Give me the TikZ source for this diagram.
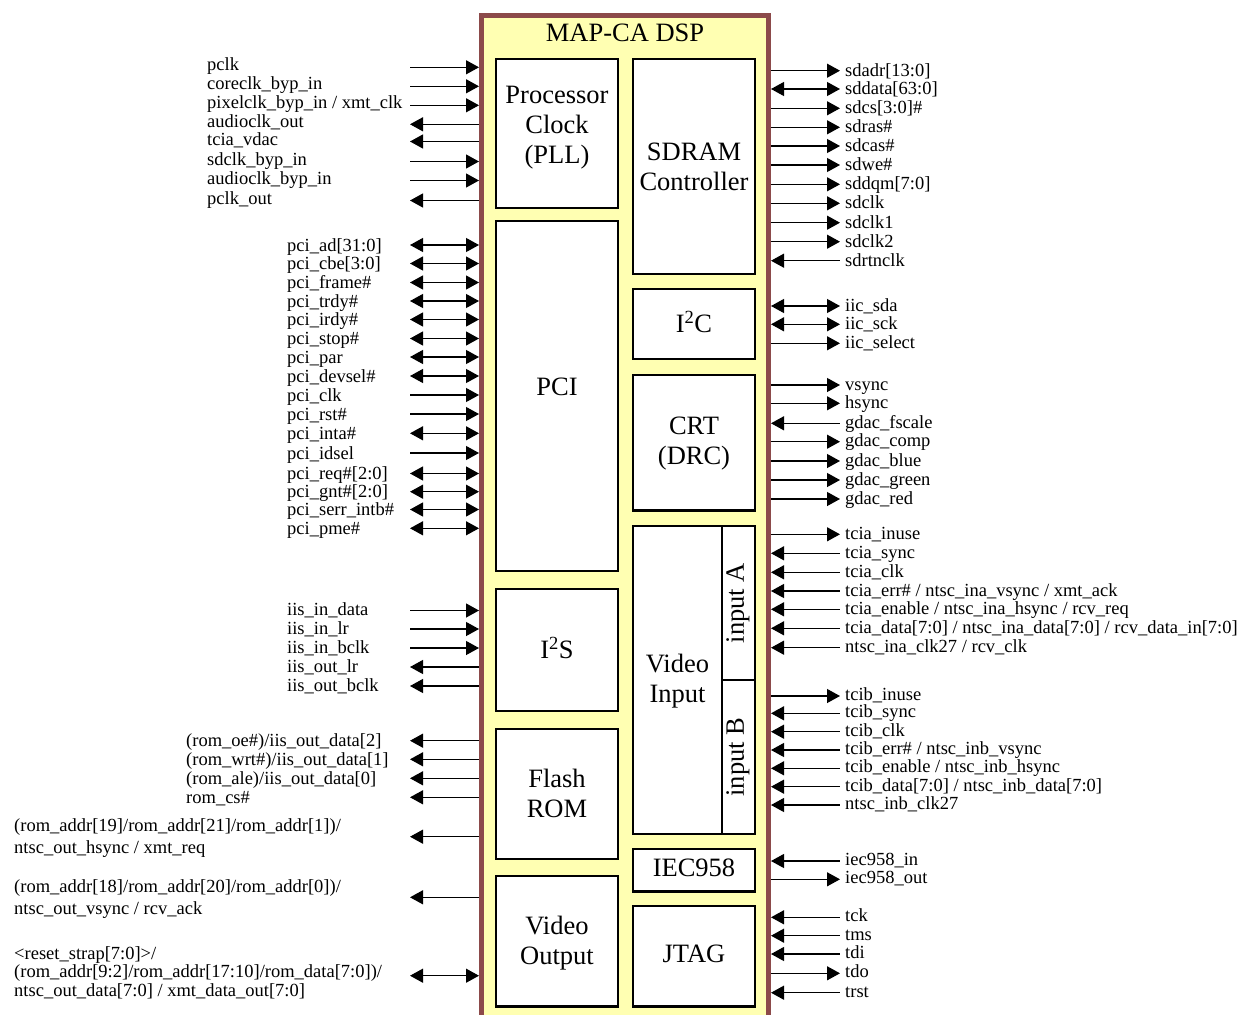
\documentclass[tikz,border=0pt]{standalone}
\usepackage{fontspec}
\setmainfont{Liberation Serif}
\usetikzlibrary{arrows.meta}
\definecolor{chipbrown}{RGB}{140,74,74}
\definecolor{chipyellow}{RGB}{255,255,178}
\tikzset{
  sig/.style={line width=1.2pt},
  tipR/.style={-{Triangle[length=13pt,width=14pt]}},
  tipL/.style={{Triangle[length=13pt,width=14pt]}-},
  tipLR/.style={{Triangle[length=13pt,width=14pt]}-{Triangle[length=13pt,width=14pt]}},
  lbl/.style={anchor=base west, inner sep=0pt, font=\fontsize{18.5}{18.5}\selectfont},
  blk/.style={draw=black, line width=2.2pt, fill=white},
  ttl/.style={font=\fontsize{26.5}{30}\selectfont, align=center, inner sep=0pt},
}
% left signal: name, label x, y, baseline offset, tip style, text
\newcommand\Lsig[6]{%
  \coordinate (#1a) at (410,#3);
  \coordinate (#1b) at (479,#3);
  \draw[sig,#5] (#1a) -- (#1b);
  \node[lbl] (#1) at ({#2},{#3+#4}) {#6};
}
% right signal: name, y, baseline offset, tip style, text
\newcommand\Rsig[5]{%
  \coordinate (#1a) at (771,#2);
  \coordinate (#1b) at (840,#2);
  \draw[sig,#4] (#1a) -- (#1b);
  \node[lbl] (#1) at (845,{#2+#3}) {#5};
}
\begin{document}
\begin{tikzpicture}[x=1pt,y=-1pt]
\path[use as bounding box] (0,0) rectangle (1244,1014);
\clip (0,0) rectangle (1244,1014);
% chip outline
\draw[line width=5pt, draw=chipbrown, fill=chipyellow] (481.7,15.8) rectangle (768,1040);
\node[ttl] (chip) at (625,33) {MAP-CA DSP};
% blocks
\draw[blk] (496,59) rectangle (618,208);
\node[ttl] (pll) at (557,128) {Processor\\Clock\\(PLL)};
\draw[blk] (633,59) rectangle (755,274);
\node[ttl] (sdram) at (694,167) {SDRAM\\Controller};
\draw[blk] (496,221) rectangle (618,571);
\node[ttl] (pci) at (557,387) {PCI};
\draw[blk] (633,289) rectangle (755,359);
\node[ttl] (iic) at (694,321.5) {I\textsuperscript{2}C};
\draw[blk] (633,375) rectangle (755,510.5);
\node[ttl] (crt) at (694,444) {CRT\\(DRC)};
\draw[blk] (496,589) rectangle (618,711);
\node[ttl] (iis) at (557,648) {I\textsuperscript{2}S};
\draw[blk] (496,729) rectangle (618,859);
\node[ttl] (flash) at (557,793) {Flash\\ROM};
\draw[blk] (496,876) rectangle (618,1006.5);
\node[ttl] (vout) at (557,943) {Video\\Output};
\draw[blk] (633,526) rectangle (755,834);
\draw[blk] (722,526) -- (722,834);
\draw[blk] (722,680) -- (755,680);
\node[ttl] (vin) at (677.5,681.5) {Video\\Input};
\node[ttl, rotate=90] (ina) at (738,603) {input A};
\node[ttl, rotate=90] (inb) at (738,757) {input B};
\draw[blk] (633,849) rectangle (755,891.5);
\node[ttl] (iec) at (694,868) {IEC958};
\draw[blk] (633,906) rectangle (755,1006.5);
\node[ttl] (jtag) at (694,954) {JTAG};
% left: clock
\Lsig{pclk}{207}{67.3}{3.5}{tipR}{pclk}
\Lsig{corebyp}{207}{86.3}{3.5}{tipR}{coreclk\_byp\_in}
\Lsig{pixbyp}{207}{105.3}{3.5}{tipR}{pixelclk\_byp\_in / xmt\_clk}
\Lsig{audout}{207}{124.3}{3.5}{tipL}{audioclk\_out}
\Lsig{vdac}{207}{141.5}{3.5}{tipL}{tcia\_vdac}
\Lsig{sdbyp}{207}{161.5}{3.5}{tipR}{sdclk\_byp\_in}
\Lsig{audbyp}{207}{180.5}{3.5}{tipR}{audioclk\_byp\_in}
\Lsig{pclkout}{207}{200.5}{3.5}{tipL}{pclk\_out}
% left: pci
\Lsig{pciad}{287}{245}{6}{tipLR}{pci\_ad[31:0]}
\Lsig{pcicbe}{287}{263.5}{6}{tipLR}{pci\_cbe[3:0]}
\Lsig{pcifr}{287}{282.5}{6}{tipLR}{pci\_frame\#}
\Lsig{pcitr}{287}{301}{6}{tipLR}{pci\_trdy\#}
\Lsig{pciir}{287}{319.5}{6}{tipLR}{pci\_irdy\#}
\Lsig{pcist}{287}{338.5}{6}{tipLR}{pci\_stop\#}
\Lsig{pcipar}{287}{357}{6}{tipLR}{pci\_par}
\Lsig{pcidev}{287}{376}{6}{tipLR}{pci\_devsel\#}
\Lsig{pciclk}{287}{395}{6}{tipR}{pci\_clk}
\Lsig{pcirst}{287}{414}{6}{tipR}{pci\_rst\#}
\Lsig{pciint}{287}{433.3}{6}{tipLR}{pci\_inta\#}
\Lsig{pciids}{287}{453}{6}{tipR}{pci\_idsel}
\Lsig{pcireq}{287}{473.5}{6}{tipLR}{pci\_req\#[2:0]}
\Lsig{pcignt}{287}{491.7}{6}{tipLR}{pci\_gnt\#[2:0]}
\Lsig{pciserr}{287}{509.5}{6}{tipLR}{pci\_serr\_intb\#}
\Lsig{pcipme}{287}{528.3}{6}{tipLR}{pci\_pme\#}
% left: i2s
\Lsig{iisid}{287}{610.5}{5}{tipR}{iis\_in\_data}
\Lsig{iisilr}{287}{629}{5}{tipR}{iis\_in\_lr}
\Lsig{iisibc}{287}{648}{5}{tipR}{iis\_in\_bclk}
\Lsig{iisolr}{287}{667}{5}{tipL}{iis\_out\_lr}
\Lsig{iisobc}{287}{686}{5}{tipL}{iis\_out\_bclk}
% left: flash
\Lsig{romoe}{186}{740.7}{6}{tipL}{(rom\_oe\#)/iis\_out\_data[2]}
\Lsig{romwr}{186}{759.3}{6}{tipL}{(rom\_wrt\#)/iis\_out\_data[1]}
\Lsig{romale}{186}{778.3}{6}{tipL}{(rom\_ale)/iis\_out\_data[0]}
\Lsig{romcs}{186}{797.3}{6}{tipL}{rom\_cs\#}
% left: multi-line
\coordinate (hsa) at (410,836.7); \coordinate (hsb) at (479,836.7);
\draw[sig,tipL] (hsa) -- (hsb);
\node[lbl] (hs1) at (14,831.5) {(rom\_addr[19]/rom\_addr[21]/rom\_addr[1])/};
\node[lbl] (hs2) at (14,853.5) {ntsc\_out\_hsync / xmt\_req};
\coordinate (vsa) at (410,897.3); \coordinate (vsb) at (479,897.3);
\draw[sig,tipL] (vsa) -- (vsb);
\node[lbl] (vs1) at (14,892) {(rom\_addr[18]/rom\_addr[20]/rom\_addr[0])/};
\node[lbl] (vs2) at (14,914.5) {ntsc\_out\_vsync / rcv\_ack};
\coordinate (rsa) at (410,975.7); \coordinate (rsb) at (479,975.7);
\draw[sig,tipLR] (rsa) -- (rsb);
\node[lbl] (rs1) at (14,959) {<reset\_strap[7:0]>/};
\node[lbl] (rs2) at (14,977.5) {(rom\_addr[9:2]/rom\_addr[17:10]/rom\_data[7:0])/};
\node[lbl] (rs3) at (14,996) {ntsc\_out\_data[7:0] / xmt\_data\_out[7:0]};
% right: sdram
\Rsig{sdadr}{70.7}{5.5}{tipR}{sdadr[13:0]}
\Rsig{sddata}{89}{5.5}{tipLR}{sddata[63:0]}
\Rsig{sdcs}{108.3}{5.5}{tipR}{sdcs[3:0]\#}
\Rsig{sdras}{127.3}{5.5}{tipR}{sdras\#}
\Rsig{sdcas}{146}{5.5}{tipR}{sdcas\#}
\Rsig{sdwe}{165}{5.5}{tipR}{sdwe\#}
\Rsig{sddqm}{184.3}{5.5}{tipR}{sddqm[7:0]}
\Rsig{sdclk}{203.3}{5.5}{tipR}{sdclk}
\Rsig{sdclka}{222.7}{5.5}{tipR}{sdclk1}
\Rsig{sdclkb}{241.7}{5.5}{tipR}{sdclk2}
\Rsig{sdrtn}{260.7}{5.5}{tipL}{sdrtnclk}
% right: iic
\Rsig{iicsda}{306}{5.5}{tipLR}{iic\_sda}
\Rsig{iicsck}{324.3}{5.5}{tipLR}{iic\_sck}
\Rsig{iicsel}{343.3}{5.5}{tipR}{iic\_select}
% right: crt
\Rsig{vsync}{385}{5}{tipR}{vsync}
\Rsig{hsync}{403.3}{5}{tipR}{hsync}
\Rsig{gfs}{423.3}{5}{tipL}{gdac\_fscale}
\Rsig{gcomp}{441.7}{5}{tipR}{gdac\_comp}
\Rsig{gblue}{461}{5}{tipR}{gdac\_blue}
\Rsig{ggreen}{480}{5}{tipR}{gdac\_green}
\Rsig{gred}{499}{5}{tipR}{gdac\_red}
% right: video in A
\Rsig{tainuse}{534.3}{5}{tipR}{tcia\_inuse}
\Rsig{tasync}{553.3}{5}{tipL}{tcia\_sync}
\Rsig{taclk}{572.3}{5}{tipL}{tcia\_clk}
\Rsig{taerr}{591}{5}{tipL}{tcia\_err\# / ntsc\_ina\_vsync / xmt\_ack}
\Rsig{taen}{609.3}{5}{tipL}{tcia\_enable / ntsc\_ina\_hsync / rcv\_req}
\Rsig{tadata}{628.3}{5}{tipL}{tcia\_data[7:0] / ntsc\_ina\_data[7:0] / rcv\_data\_in[7:0]}
\Rsig{taclkb}{647.7}{5}{tipL}{ntsc\_ina\_clk27 / rcv\_clk}
% right: video in B
\Rsig{tbinuse}{696}{4.5}{tipR}{tcib\_inuse}
\Rsig{tbsync}{713.3}{4.5}{tipL}{tcib\_sync}
\Rsig{tbclk}{731.7}{4.5}{tipL}{tcib\_clk}
\Rsig{tberr}{750}{4.5}{tipL}{tcib\_err\# / ntsc\_inb\_vsync}
\Rsig{tben}{768.3}{4.5}{tipL}{tcib\_enable / ntsc\_inb\_hsync}
\Rsig{tbdata}{786.7}{4.5}{tipL}{tcib\_data[7:0] / ntsc\_inb\_data[7:0]}
\Rsig{tbclkb}{805}{4.5}{tipL}{ntsc\_inb\_clk27}
% right: iec958
\Rsig{iecin}{861}{4.5}{tipL}{iec958\_in}
\Rsig{iecout}{879.3}{4.5}{tipR}{iec958\_out}
% right: jtag
\Rsig{tck}{917.3}{4.5}{tipL}{tck}
\Rsig{tms}{935.7}{4.5}{tipL}{tms}
\Rsig{tdi}{954}{4.5}{tipL}{tdi}
\Rsig{tdo}{973.3}{4.5}{tipR}{tdo}
\Rsig{trst}{992.7}{4.5}{tipL}{trst}
\end{tikzpicture}
\end{document}
